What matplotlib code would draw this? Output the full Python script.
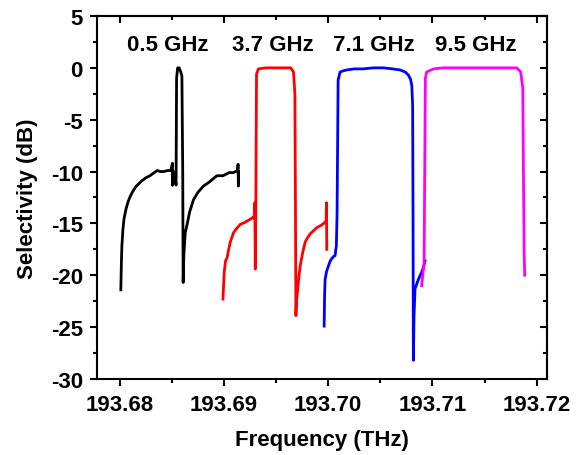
import matplotlib
matplotlib.use("Agg")
import matplotlib.pyplot as plt
from matplotlib.ticker import MultipleLocator, FormatStrFormatter

plt.rcParams['font.family'] = ['Liberation Sans', 'DejaVu Sans']
plt.rcParams['font.weight'] = 'bold'

# ---- data ----
black_f = [193.6801, 193.68015, 193.6802, 193.6803, 193.6804, 193.6806, 193.6808, 193.6810,
           193.6812, 193.6815, 193.6818, 193.6821, 193.6825, 193.6829, 193.6833, 193.6836,
           193.6839, 193.6842, 193.6846, 193.6849, 193.68505, 193.68505, 193.68505, 193.6851,
           193.68515, 193.68525, 193.68540, 193.68545, 193.68555, 193.68570, 193.68585, 193.68596,
           193.68604, 193.68608, 193.68615, 193.68628, 193.68644, 193.6867, 193.68708, 193.6875,
           193.68803, 193.6886, 193.68932, 193.6899, 193.69050, 193.69091, 193.69130, 193.69135,
           193.69138, 193.69140]
black_db = [-21.4, -19.0, -17.2, -15.6, -14.6, -13.6, -12.9, -12.4,
            -12.0, -11.5, -11.2, -10.9, -10.6, -10.4, -10.1, -9.9,
            -10.0, -10.0, -9.9, -9.9, -9.2, -11.3, -10.0, -9.9,
            -10.2, -10.3, -11.3, -1.0, 0.0, 0.0, -0.4, -0.8,
            -10.0, -20.7, -18.0, -15.9, -15.2, -13.9, -12.7, -12.0,
            -11.4, -11.0, -10.4, -10.4, -10.1, -10.1, -9.9, -9.3,
            -11.4, -10.0]

red_f = [193.6899, 193.69002, 193.69015, 193.69030, 193.69043, 193.6906, 193.69091, 193.6912,
         193.69155, 193.6920, 193.69251, 193.69280, 193.69285, 193.69290, 193.69296, 193.69300,
         193.69305, 193.69312, 193.69330, 193.69400, 193.69500, 193.69600, 193.69640, 193.69667,
         193.69680, 193.69685, 193.69690, 193.69695, 193.69705, 193.69720, 193.69731, 193.69755,
         193.69779, 193.69800, 193.69827, 193.69860, 193.69891, 193.69930, 193.69970, 193.69980,
         193.69983, 193.69986]
red_db = [-22.3, -19.7, -18.6, -18.3, -17.6, -16.8, -15.9, -15.5,
          -15.1, -14.9, -14.6, -14.4, -14.5, -14.3, -13.0, -19.4,
          -14.0, -0.6, -0.1, 0.0, 0.0, 0.0, 0.0, -0.4,
          -2.5, -12.0, -23.9, -22.5, -21.6, -20.0, -19.1, -17.8,
          -16.8, -16.4, -16.0, -15.7, -15.4, -15.2, -14.9, -14.7,
          -13.0, -17.5]

blue_f = [193.69961, 193.69965, 193.6997, 193.69985, 193.70002, 193.70020, 193.70034, 193.70050,
          193.70066, 193.70074, 193.70078, 193.70085, 193.70095, 193.70114, 193.70140, 193.70178,
          193.70250, 193.70330, 193.70433, 193.70530, 193.70620, 193.70689, 193.70740, 193.70769,
          193.70790, 193.70802, 193.70810, 193.70814, 193.70817, 193.70823, 193.70833, 193.70865,
          193.70897, 193.70915, 193.70929]
blue_db = [-24.9, -22.0, -20.4, -19.6, -19.1, -18.6, -18.4, -18.2,
           -18.1, -17.4, -17.2, -14.0, -1.2, -0.4, -0.3, -0.2,
           -0.1, -0.1, 0.0, 0.0, -0.1, -0.2, -0.4, -0.7,
           -1.1, -1.7, -3.6, -15.0, -28.2, -24.0, -21.3, -20.4,
           -19.7, -19.2, -18.6]

mag_f = [193.70897, 193.70905, 193.70912, 193.70920, 193.70926, 193.70932, 193.70945, 193.71009,
         193.71100, 193.71250, 193.71400, 193.71550, 193.71700, 193.71808, 193.71847, 193.71867,
         193.71873, 193.71880, 193.71885]
mag_db = [-21.0, -20.2, -19.5, -18.8, -10.0, -1.0, -0.4, -0.1,
          0.0, 0.0, 0.0, 0.0, 0.0, 0.0, -0.4, -2.0,
          -10.0, -17.8, -20.0]

labels = ['0.5 GHz', '3.7 GHz', '7.1 GHz', '9.5 GHz']
label_f = [193.68465, 193.69469, 193.70440, 193.71418]
label_db = [2.3, 2.3, 2.3, 2.3]

xticks = [193.68, 193.69, 193.70, 193.71, 193.72]
yticks = [-30, -25, -20, -15, -10, -5, 0, 5]

# ---- figure ----
fig = plt.figure(figsize=(5.87, 4.56), dpi=100)
ax = fig.add_axes([0.165, 0.1667, 0.767, 0.796])

lw = 2.0
ax.plot(black_f, black_db, color='black', lw=lw)
ax.plot(red_f, red_db, color='#FF0000', lw=lw)
ax.plot(blue_f, blue_db, color='#0000FF', lw=lw)
ax.plot(mag_f, mag_db, color='#FF00FF', lw=lw)

for t, xf, yd in zip(labels, label_f, label_db):
    ax.text(xf, yd, t, ha='center', va='center', fontsize=16, fontweight='bold')

ax.set_xlim(193.6778, 193.7210)
ax.set_ylim(-30, 5)
ax.set_xticks(xticks)
ax.set_yticks(yticks)
ax.xaxis.set_major_formatter(FormatStrFormatter('%.2f'))
ax.yaxis.set_major_formatter(FormatStrFormatter('%d'))
ax.xaxis.set_minor_locator(MultipleLocator(0.005))
ax.yaxis.set_minor_locator(MultipleLocator(2.5))
ax.tick_params(which='major', direction='out', length=5, width=1.5, labelsize=16)
ax.tick_params(axis='x', which='major', pad=6)
ax.tick_params(axis='y', which='major', pad=5)
ax.tick_params(which='minor', direction='out', length=3, width=1.5)
for lab in ax.get_xticklabels() + ax.get_yticklabels():
    lab.set_fontweight('bold')
for s in ax.spines.values():
    s.set_linewidth(1.5)

secx = ax.secondary_xaxis('top')
secx.set_xticks(xticks)
secx.xaxis.set_minor_locator(MultipleLocator(0.005))
secx.tick_params(which='major', direction='in', length=5, width=1.5, labeltop=False)
secx.tick_params(which='minor', direction='in', length=3, width=1.5)
secx.spines['top'].set_linewidth(1.5)

secy = ax.secondary_yaxis('right')
secy.set_yticks(yticks)
secy.yaxis.set_minor_locator(MultipleLocator(2.5))
secy.tick_params(which='major', direction='in', length=5, width=1.5, labelright=False)
secy.tick_params(which='minor', direction='in', length=3, width=1.5)
secy.spines['right'].set_linewidth(1.5)

ax.set_xlabel('Frequency (THz)', fontsize=16, fontweight='bold', labelpad=10)
ax.set_ylabel('Selectivity (dB)', fontsize=16, fontweight='bold', labelpad=9)

fig.savefig('out.png', dpi=100)
